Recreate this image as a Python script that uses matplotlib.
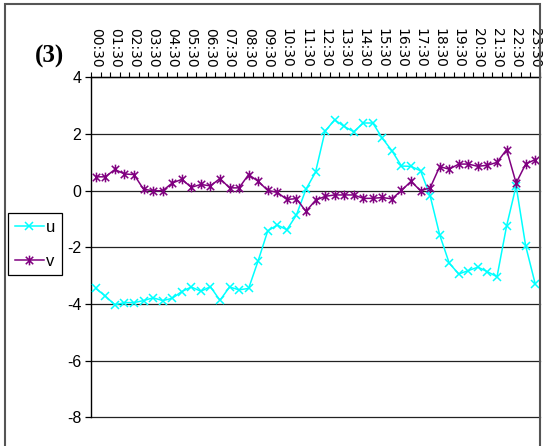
import matplotlib
matplotlib.use("Agg")
import matplotlib.pyplot as plt
from matplotlib.path import Path
from matplotlib.patches import Rectangle
from matplotlib.lines import Line2D
import numpy as np

plt.rcParams["axes.unicode_minus"] = False

# Half-hourly wind components, 00:30 .. 23:30
tick_labels = ["00:30", "01:30", "02:30", "03:30", "04:30", "05:30", "06:30", "07:30",
               "08:30", "09:30", "10:30", "11:30", "12:30", "13:30", "14:30", "15:30",
               "16:30", "17:30", "18:30", "19:30", "20:30", "21:30", "22:30", "23:30"]

u = [-3.45, -3.72, -4.03, -3.95, -3.95, -3.88, -3.78, -3.88, -3.80, -3.56,
     -3.40, -3.55, -3.39, -3.87, -3.40, -3.50, -3.45, -2.47, -1.42, -1.21,
     -1.38, -0.86, 0.05, 0.65, 2.10, 2.50, 2.27, 2.08, 2.39, 2.39,
     1.85, 1.41, 0.87, 0.86, 0.70, -0.18, -1.56, -2.56, -2.94, -2.82,
     -2.70, -2.86, -3.04, -1.25, 0.17, -1.95, -3.29]

v = [0.49, 0.49, 0.75, 0.59, 0.57, 0.05, 0.00, 0.00, 0.27, 0.40,
     0.12, 0.22, 0.17, 0.43, 0.10, 0.10, 0.57, 0.33, 0.01, -0.06,
     -0.31, -0.28, -0.73, -0.34, -0.20, -0.15, -0.15, -0.15, -0.27, -0.27,
     -0.24, -0.29, 0.01, 0.33, 0.00, 0.10, 0.85, 0.76, 0.94, 0.94,
     0.86, 0.90, 1.00, 1.45, 0.27, 0.94, 1.10]

y_ticks = [-8, -6, -4, -2, 0, 2, 4]

W, H = 545, 446
narrow = ["Liberation Sans Narrow", "Liberation Sans", "DejaVu Sans"]

fig = plt.figure(figsize=(W / 100, H / 100), dpi=100)
fig.patch.set_facecolor("white")

# plot area in pixel terms
left, right, top, bottom = 91, 540, 77.4, 417.3
ax = fig.add_axes([left / W, 1 - bottom / H, (right - left) / W, (bottom - top) / H])

# Excel-style star marker: an "x" with a vertical bar through it
star = Path([(-1, -1), (1, 1), (-1, 1), (1, -1), (0, -1.3), (0, 1.3)],
            [Path.MOVETO, Path.LINETO, Path.MOVETO, Path.LINETO, Path.MOVETO, Path.LINETO])

x = np.arange(len(u))
cyan = "#00FFFF"
purple = "#800080"
ax.plot(x, u, color=cyan, lw=1.1, marker="x", ms=6, mew=1.1, zorder=3)
ax.plot(x, v, color=purple, lw=1.1, marker=star, ms=7, mew=1.1, zorder=4)

ax.set_xlim(-0.5, len(u) - 0.5)
ax.set_ylim(-8, 4)

# horizontal gridlines
ax.set_yticks(y_ticks)
ax.yaxis.grid(True, color="#222222", lw=0.9)
ax.set_axisbelow(True)
for gl in ax.get_ygridlines():
    gl.set_clip_on(False)
ax.tick_params(axis="y", direction="out", length=4, width=0.9, color="black", pad=3)
for t in ax.get_yticklabels():
    t.set_family(narrow)
    t.set_fontsize(11.5)

# category axis along the top
ax.xaxis.tick_top()
ax.set_xticks(np.arange(-0.5, len(u), 1.0))
ax.set_xticklabels([])
ax.tick_params(axis="x", which="major", direction="out", length=3.5, width=0.8, color="black")
ax.set_xticks(np.arange(0, len(u), 2), minor=True)
ax.set_xticklabels(tick_labels, minor=True, rotation=-90, fontsize=10,
                   family=["DejaVu Sans"])
ax.tick_params(axis="x", which="minor", length=0, pad=7, top=True, bottom=False)

for s in ["bottom", "right"]:
    ax.spines[s].set_visible(False)
ax.spines["left"].set_color("black")
ax.spines["left"].set_linewidth(1.0)
ax.spines["top"].set_color("black")
ax.spines["top"].set_linewidth(1.0)

# panel label
fig.text(50 / W, 1 - 56 / H, "(3)", fontsize=18, fontweight="bold",
         family=["Liberation Serif", "DejaVu Serif"], ha="center", va="center")

# legend
handles = [Line2D([], [], color=cyan, lw=1.1, marker="x", ms=6, mew=1.1),
           Line2D([], [], color=purple, lw=1.1, marker=star, ms=7, mew=1.1)]
leg = fig.legend(handles, ["u", "v"], loc="upper left",
                 bbox_to_anchor=(8 / W, 1 - 213 / H), frameon=True, fancybox=False,
                 edgecolor="black", framealpha=1, handlelength=1.75, handletextpad=0.15,
                 labelspacing=1.15, borderpad=0.4, borderaxespad=0,
                 prop={"family": narrow, "size": 12})
leg.get_frame().set_linewidth(0.9)

# chart border
fig.patches.append(Rectangle((5 / W, -0.05), (540 - 5) / W, 1.05 - 4 / H,
                             transform=fig.transFigure, fill=False,
                             edgecolor="#555555", lw=1.5, zorder=0))

fig.savefig("out.png", dpi=100, facecolor="white")
